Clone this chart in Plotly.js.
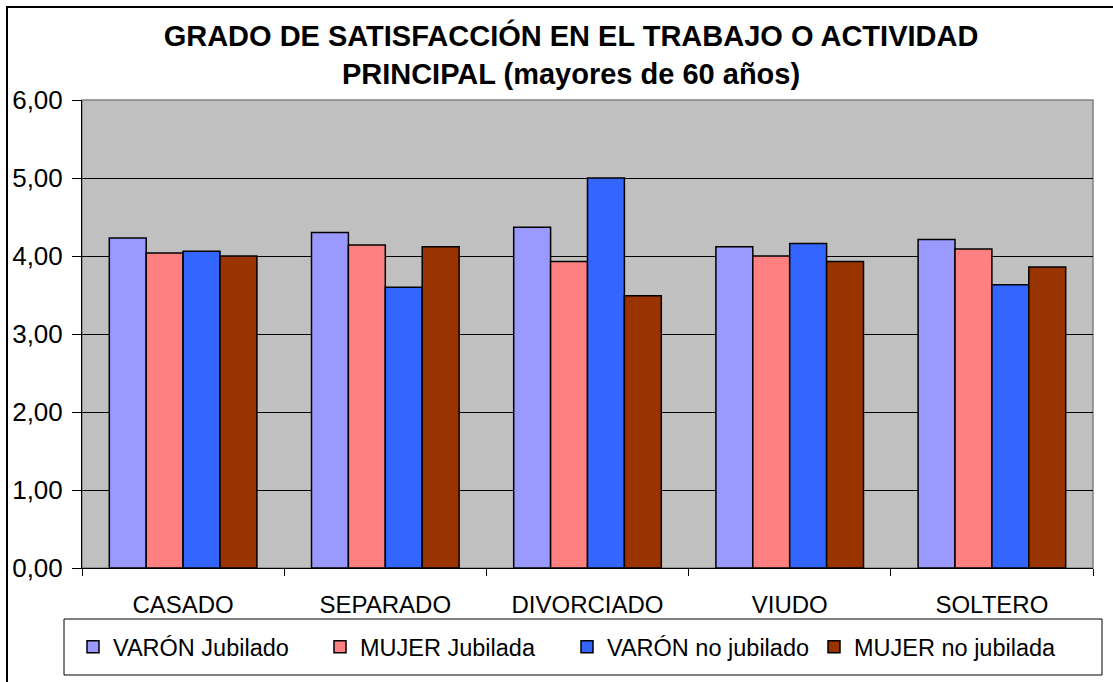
<!DOCTYPE html>
<html>
<head>
<meta charset="utf-8">
<script src="https://cdn.plot.ly/plotly-3.0.1.min.js"></script>
<style>
html,body{margin:0;padding:0;background:#fff;}
#chart{width:1113px;height:682px;}
</style>
</head>
<body>
<div id="chart"></div>
<script>
const categories = ["CASADO", "SEPARADO", "DIVORCIADO", "VIUDO", "SOLTERO"];
const seriesNames = ["VARÓN Jubilado", "MUJER Jubilada", "VARÓN no jubilado", "MUJER no jubilada"];
const varonJubilado = [4.23, 4.30, 4.37, 4.12, 4.21];
const mujerJubilada = [4.04, 4.14, 3.93, 4.00, 4.09];
const varonNoJubilado = [4.06, 3.60, 5.00, 4.16, 3.63];
const mujerNoJubilada = [4.00, 4.12, 3.49, 3.93, 3.86];
const yTicks = [0, 1, 2, 3, 4, 5, 6];

const colors = ["#9999FF", "#FF8080", "#3366FF", "#993300"];
const seriesValues = [varonJubilado, mujerJubilada, varonNoJubilado, mujerNoJubilada];

const FONT = "Liberation Sans, Arial, sans-serif";

const traces = seriesValues.map((vals, i) => ({
  type: "bar",
  name: seriesNames[i],
  x: categories,
  y: vals,
  marker: {color: colors[i], line: {color: "#000000", width: 1.5}},
  hoverinfo: "x+y+name"
}));

const L = 82, R = 1093, T = 100, B = 568;
const W = R - L, H = B - T;
const px = v => (v - L) / W;
const py = v => (B - v) / H;

const layout = {
  width: 1113,
  height: 682,
  margin: {l: L, r: 1113 - R, t: T, b: 682 - B},
  paper_bgcolor: "#ffffff",
  plot_bgcolor: "#C0C0C0",
  separators: ",.",
  barmode: "group",
  bargap: 0.27,
  bargroupgap: 0,
  font: {family: FONT, color: "#000000", size: 24},
  title: {
    text: "GRADO DE SATISFACCIÓN EN EL TRABAJO O ACTIVIDAD<br>PRINCIPAL (mayores de 60 años)",
    font: {family: FONT, size: 29, color: "#000000", weight: "bold"},
    x: px(571), xref: "paper", xanchor: "center",
    y: 1 - 46 / 682, yref: "container", yanchor: "middle"
  },
  xaxis: {
    type: "category",
    tickson: "boundaries",
    ticks: "outside",
    ticklen: 7,
    tickcolor: "#000000",
    tickwidth: 1,
    showline: true,
    linecolor: "#000000",
    linewidth: 1,
    showgrid: false,
    ticklabelstandoff: 15,
    tickfont: {family: FONT, size: 24, color: "#000000"},
    automargin: false
  },
  yaxis: {
    range: [0, 6],
    tickvals: yTicks,
    tickformat: ".2f",
    ticks: "outside",
    ticklen: 9,
    tickcolor: "#000000",
    showline: true,
    linecolor: "#000000",
    linewidth: 1,
    showgrid: true,
    gridcolor: "#000000",
    gridwidth: 1,
    zeroline: false,
    ticklabelstandoff: 4,
    tickfont: {family: FONT, size: 26, color: "#000000"},
    automargin: false
  },
  legend: {
    orientation: "h",
    x: px(73), xanchor: "left",
    y: py(625), yanchor: "top",
    bgcolor: "rgba(0,0,0,0)",
    borderwidth: 0,
    font: {family: FONT, size: 23.5, color: "#000000"},
    entrywidth: 202,
    traceorder: "normal"
  },
  shapes: [
    {type: "rect", xref: "paper", yref: "paper", x0: 0, x1: 1, y0: 0, y1: 1,
     line: {color: "#808080", width: 1.5}, fillcolor: "rgba(0,0,0,0)", layer: "below"},
    {type: "rect", xref: "paper", yref: "paper", x0: px(64), x1: px(1102), y0: py(619), y1: py(675),
     line: {color: "#000000", width: 1}, fillcolor: "#ffffff", layer: "below"},
    {type: "line", xref: "paper", yref: "paper", x0: px(6), x1: px(1115), y0: py(7), y1: py(7),
     line: {color: "#000000", width: 2}},
    {type: "line", xref: "paper", yref: "paper", x0: px(7), x1: px(7), y0: py(6), y1: py(684),
     line: {color: "#000000", width: 2}}
  ]
};

Plotly.newPlot("chart", traces, layout, {displayModeBar: false, staticPlot: true});
</script>
</body>
</html>
